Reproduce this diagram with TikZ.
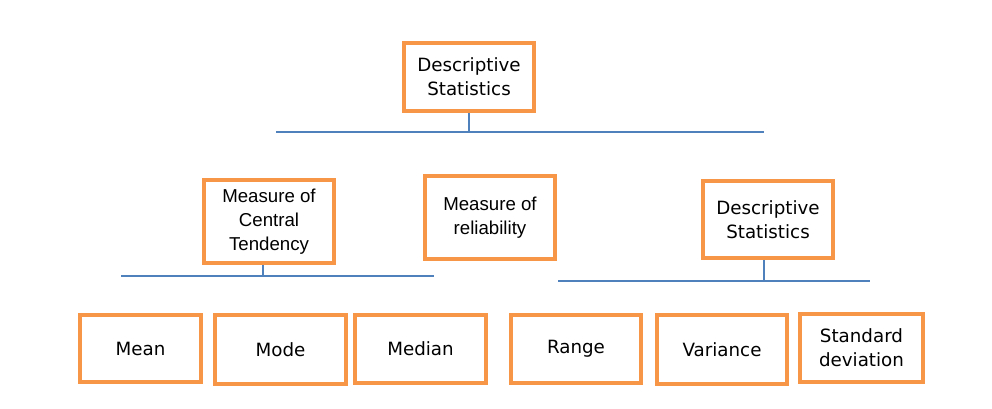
\documentclass[tikz,border=0pt]{standalone}
\usepackage{fontspec}
\setmainfont{DejaVu Sans}
\newfontfamily\arialfont{Liberation Sans}

\definecolor{laranja}{HTML}{F79646}
\definecolor{azul}{HTML}{4F81BD}

\tikzstyle{statbox} = [draw=laranja, line width=3pt, minimum width=97.5pt, minimum height=51pt, align=center, font=\fontsize{13.7}{18}\selectfont]
\tikzstyle{arialtext} = [font=\arialfont\fontsize{14}{18}\selectfont]
\tikzstyle{treeline} = [draw=azul, line width=1pt]

\begin{document}
\begin{tikzpicture}[x=0.75pt, y=-0.75pt]

    \useasboundingbox (0,0) rectangle (992,408);

    % top level
    \node at (469,77) [statbox] (desc) {Descriptive\\Statistics};
    \coordinate (topL) at (276,132);
    \coordinate (topR) at (764,132);
    \draw [treeline] (desc.south) -- (desc.south |- topL);
    \draw [treeline] (topL) -- (topR);

    % middle level
    \node at (269,221.5) [statbox, arialtext, minimum height=62.25pt] (central) {Measure of\\Central\\Tendency};
    \node at (490,217.5) [statbox, arialtext, minimum height=62.25pt] (reliab) {Measure of\\reliability};
    \node at (768,219.5) [statbox, minimum height=57.75pt] (descr) {Descriptive\\Statistics};

    \coordinate (midL) at (121,276);
    \coordinate (midR) at (434,276);
    \draw [treeline] ([xshift=-4.5pt]central.south) -- ([xshift=-4.5pt]central.south |- midL);
    \draw [treeline] (midL) -- (midR);

    \coordinate (rgtL) at (558,281);
    \coordinate (rgtR) at (870,281);
    \draw [treeline] ([xshift=-3pt]descr.south) -- ([xshift=-3pt]descr.south |- rgtL);
    \draw [treeline] (rgtL) -- (rgtR);

    % bottom level
    \node at (140.5,348.5) [statbox, minimum width=90.75pt, minimum height=50.25pt] (mean) {Mean};
    \node at (280.5,349.5) [statbox, minimum width=98.25pt, minimum height=51.75pt] (mode) {Mode};
    \node at (420.5,349) [statbox, minimum width=98.25pt] (median) {Median};
    \node at (576,349) [statbox] (range) {Range};
    \node at (722,349.5) [statbox, minimum height=51.75pt] (variance) {Variance};
    \node at (861.5,348) [statbox, minimum width=92.25pt] (stddev) {Standard\\deviation};

\end{tikzpicture}
\end{document}
